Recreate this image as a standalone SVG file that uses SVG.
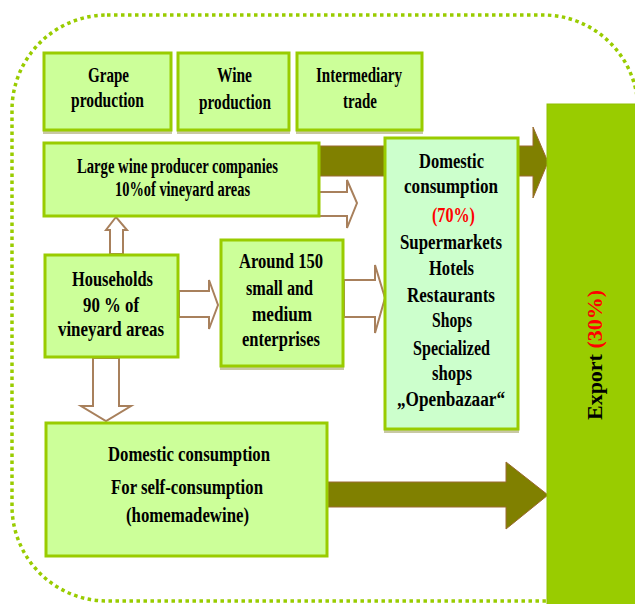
<svg xmlns="http://www.w3.org/2000/svg" width="635" height="604" viewBox="0 0 635 604">
<style>
.box{fill:#ccff99;stroke:#99cc00;stroke-width:3}
.boxl{fill:#ccffcc;stroke:#99cc00;stroke-width:3}
.sh{fill:#c8c8a4}
.t{font-family:"Liberation Serif","Times New Roman",serif;font-weight:bold;font-size:20px;fill:#000;text-anchor:start}
.big{font-size:22px}
.red{fill:#ff0000}
.olive{fill:#808000;stroke:#9a6a30;stroke-width:1}
.hollow{fill:#ffffff;stroke:#a8805c;stroke-width:2;stroke-linejoin:miter}
</style>
<rect width="635" height="604" fill="#ffffff"/>
<rect x="12" y="15" width="626" height="586" rx="95" ry="95" fill="none" stroke="#99cc00" stroke-width="3.5" stroke-dasharray="3.5 3.5"/>
<g id="connectors">
<polygon class="olive" points="318,146 533,146 533,127 548,162 533,198 533,176 318,176"/>
<polygon class="olive" points="328,482 506,482 506,462 548,495 506,529 506,507 328,507"/>
<polygon class="hollow" points="318,192 347,192 347,180 357,203 347,228 347,216 318,216"/>
<polygon class="hollow" points="110,254 110,230 106,230 116,217 127,230 123,230 123,254"/>
<polygon class="hollow" points="179,291 209,291 209,280 218,305 209,329 209,317 179,317"/>
<polygon class="hollow" points="344,280 375,280 375,265 385,298 375,333 375,317 344,317"/>
<polygon class="hollow" points="93,358 93,406 81,406 106,421 131,406 119,406 119,358"/>
</g>
<g id="export">
<rect x="547" y="104" width="90" height="502" fill="#99cc00" stroke="#8fbf00" stroke-width="1"/>
<text class="t" transform="translate(602,420) rotate(-90)" x="0" y="0" textLength="130" lengthAdjust="spacingAndGlyphs">Export <tspan class="red">(30%)</tspan></text>
</g>
<g id="grape">
<rect class="sh" x="43" y="130" width="129" height="4"/>
<rect class="box" x="44" y="53" width="127" height="77"/>
<text class="t" x="88" y="82" textLength="41" lengthAdjust="spacingAndGlyphs">Grape</text>
<text class="t" x="71" y="107" textLength="73" lengthAdjust="spacingAndGlyphs">production</text>
</g>
<g id="wine">
<rect class="sh" x="177" y="130" width="113" height="4"/>
<rect class="box" x="178" y="53" width="111" height="77"/>
<text class="t" x="217" y="82" textLength="35" lengthAdjust="spacingAndGlyphs">Wine</text>
<text class="t" x="199" y="109" textLength="72" lengthAdjust="spacingAndGlyphs">production</text>
</g>
<g id="intermediary">
<rect class="sh" x="296" y="130" width="127" height="4"/>
<rect class="box" x="297" y="53" width="125" height="77"/>
<text class="t" x="316" y="82" textLength="86" lengthAdjust="spacingAndGlyphs">Intermediary</text>
<text class="t" x="343" y="108" textLength="34" lengthAdjust="spacingAndGlyphs">trade</text>
</g>
<g id="large">
<rect class="box" x="44" y="143" width="275" height="73"/>
<text class="t" x="77" y="173" textLength="201" lengthAdjust="spacingAndGlyphs">Large wine producer companies</text>
<text class="t" x="115" y="196" textLength="135" lengthAdjust="spacingAndGlyphs">10%of vineyard areas</text>
</g>
<g id="households">
<rect class="box" x="45" y="255" width="133" height="102"/>
<text class="t big" x="72" y="286" textLength="81" lengthAdjust="spacingAndGlyphs">Households</text>
<text class="t big" x="83" y="312" textLength="56" lengthAdjust="spacingAndGlyphs">90 % of</text>
<text class="t big" x="58" y="336" textLength="106" lengthAdjust="spacingAndGlyphs">vineyard areas</text>
</g>
<g id="sme">
<rect class="sh" x="220" y="366" width="124" height="4"/>
<rect class="box" x="221" y="240" width="122" height="126"/>
<text class="t" x="239" y="268" textLength="84" lengthAdjust="spacingAndGlyphs">Around 150</text>
<text class="t" x="246" y="295" textLength="67" lengthAdjust="spacingAndGlyphs">small and</text>
<text class="t" x="252" y="321" textLength="60" lengthAdjust="spacingAndGlyphs">medium</text>
<text class="t" x="242" y="346" textLength="78" lengthAdjust="spacingAndGlyphs">enterprises</text>
</g>
<g id="domestic">
<rect class="sh" x="384" y="429" width="135" height="4"/>
<rect class="boxl" x="385" y="138" width="133" height="291"/>
<text class="t" x="419" y="168" textLength="65" lengthAdjust="spacingAndGlyphs">Domestic</text>
<text class="t" x="404" y="193" textLength="94" lengthAdjust="spacingAndGlyphs">consumption</text>
<text class="t red" x="432" y="222" textLength="43" lengthAdjust="spacingAndGlyphs">(70%)</text>
<text class="t" x="400" y="249" textLength="102" lengthAdjust="spacingAndGlyphs">Supermarkets</text>
<text class="t" x="429" y="275" textLength="45" lengthAdjust="spacingAndGlyphs">Hotels</text>
<text class="t" x="407" y="302" textLength="88" lengthAdjust="spacingAndGlyphs">Restaurants</text>
<text class="t" x="432" y="327" textLength="40" lengthAdjust="spacingAndGlyphs">Shops</text>
<text class="t" x="413" y="355" textLength="77" lengthAdjust="spacingAndGlyphs">Specialized</text>
<text class="t" x="432" y="380" textLength="40" lengthAdjust="spacingAndGlyphs">shops</text>
<text class="t" x="397" y="406" textLength="108" lengthAdjust="spacingAndGlyphs">„Openbazaar“</text>
</g>
<g id="self">
<rect class="box" x="46" y="423" width="281" height="133"/>
<text class="t big" x="108" y="461" textLength="162" lengthAdjust="spacingAndGlyphs">Domestic consumption</text>
<text class="t" x="111" y="494" textLength="152" lengthAdjust="spacingAndGlyphs">For self-consumption</text>
<text class="t" x="126" y="522" textLength="123" lengthAdjust="spacingAndGlyphs">(homemadewine)</text>
</g>
</svg>
